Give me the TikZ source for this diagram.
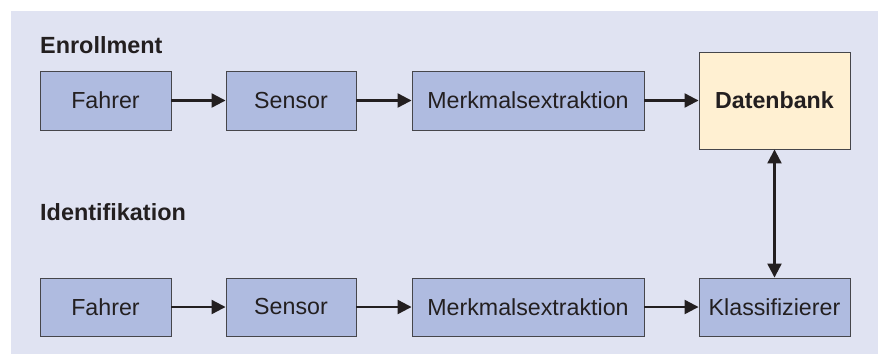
\documentclass[tikz,border=0pt]{standalone}
\usepackage{fontspec}
\setmainfont{Liberation Sans}
\usetikzlibrary{arrows.meta}
\definecolor{bgc}{RGB}{224,227,242}
\definecolor{boxc}{RGB}{175,187,224}
\definecolor{dbc}{RGB}{255,240,210}
\definecolor{ink}{RGB}{35,31,32}
\definecolor{edge}{RGB}{70,70,75}
\tikzset{
  procbox/.style={draw=edge, line width=0.9bp, fill=boxc, inner sep=0pt, text=ink,
    font=\fontsize{23.3}{26}\selectfont},
  dbbox/.style={draw=edge, line width=0.9bp, fill=dbc, inner sep=0pt, text=ink,
    font=\fontsize{23.3}{26}\selectfont\bfseries},
  heading/.style={anchor=base west, inner sep=0pt, text=ink, font=\fontsize{23.5}{26}\selectfont\bfseries},
  flow/.style={draw=ink, line width=2.2bp, -{Triangle[length=14bp,width=14bp]}},
  biflow/.style={draw=ink, line width=2.2bp, {Triangle[length=14bp,width=14bp]}-{Triangle[length=14bp,width=14bp]}},
}
\begin{document}
\begin{tikzpicture}[x=1bp,y=-1bp]
\useasboundingbox (0,0) rectangle (878,354);
\fill[white] (0,0) rectangle (878,354);
\fill[bgc] (11,11) rectangle (878,354);

\node[heading] (enr) at (40,53) {Enrollment};
\node[heading] (idf) at (40,220) {Identifikation};

% top row
\node[procbox, minimum width=131bp, minimum height=59bp] (f1) at (105.5,100.5) {Fahrer};
\node[procbox, minimum width=130bp, minimum height=59bp] (s1) at (291,100.5) {Sensor};
\node[procbox, minimum width=232bp, minimum height=59bp] (m1) at (528,100.5) {Merkmalsextraktion};
\node[dbbox, minimum width=151bp, minimum height=97bp] (db) at (774.5,100.5) {Datenbank};

% bottom row
\node[procbox, minimum width=131bp, minimum height=58bp] (f2) at (105.5,307) {Fahrer};
\node[procbox, minimum width=130bp, minimum height=58bp] (s2) at (291,307) {Sensor};
\node[procbox, minimum width=232bp, minimum height=58bp] (m2) at (528,307) {Merkmalsextraktion};
\node[procbox, minimum width=151bp, minimum height=58bp] (kl) at (774.5,307) {Klassifizierer};

\draw[flow] (f1) -- (s1);
\draw[flow] (s1) -- (m1);
\draw[flow] (m1) -- (db);
\draw[flow] (f2) -- (s2);
\draw[flow] (s2) -- (m2);
\draw[flow] (m2) -- (kl);
\draw[biflow] (db) -- (kl);
\end{tikzpicture}
\end{document}
